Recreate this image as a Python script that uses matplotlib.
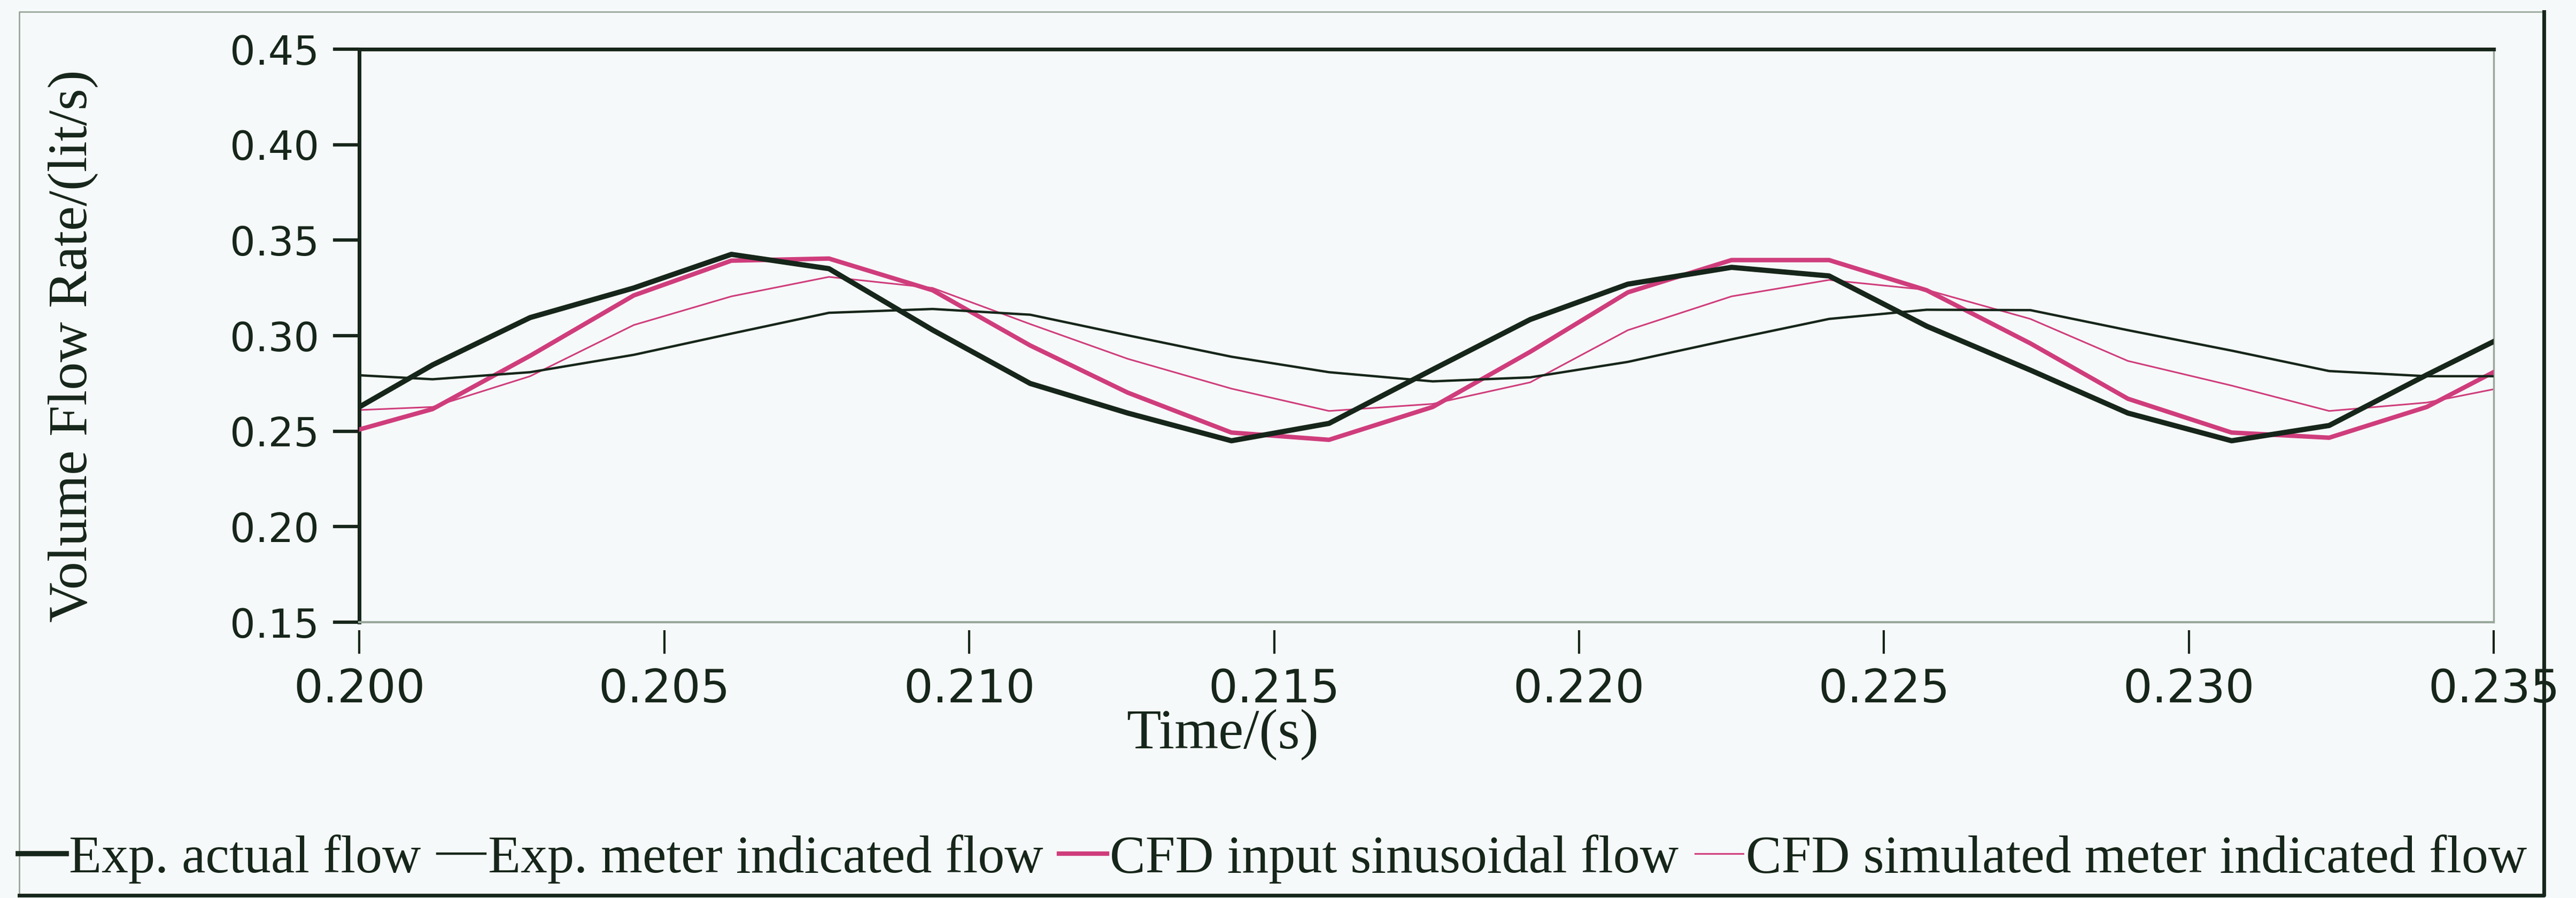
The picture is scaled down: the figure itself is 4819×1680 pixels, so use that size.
import matplotlib
matplotlib.use("Agg")
from matplotlib import pyplot as plt
from matplotlib.lines import Line2D

# time samples (s)
time = [0.2000, 0.2012, 0.2028, 0.2045, 0.2061, 0.2077, 0.2094, 0.2110,
        0.2126, 0.2143, 0.2159, 0.2176, 0.2192, 0.2208, 0.2225, 0.2241,
        0.2257, 0.2274, 0.2290, 0.2307, 0.2323, 0.2339, 0.2350]

# volume flow rate (lit/s)
exp_actual = [0.2627, 0.2847, 0.3095, 0.3250, 0.3426, 0.3351, 0.3030, 0.2750,
              0.2595, 0.2450, 0.2541, 0.2823, 0.3085, 0.3270, 0.3358, 0.3313,
              0.3050, 0.2820, 0.2595, 0.2450, 0.2530, 0.2795, 0.2970]
exp_meter = [0.2793, 0.2772, 0.2809, 0.2900, 0.3011, 0.3120, 0.3140, 0.3110,
             0.3002, 0.2890, 0.2809, 0.2761, 0.2782, 0.2863, 0.2981, 0.3088,
             0.3136, 0.3134, 0.3029, 0.2922, 0.2815, 0.2788, 0.2788]
cfd_input = [0.2509, 0.2616, 0.2895, 0.3211, 0.3393, 0.3404, 0.3238, 0.2949,
             0.2702, 0.2493, 0.2455, 0.2627, 0.2916, 0.3227, 0.3396, 0.3396,
             0.3238, 0.2960, 0.2670, 0.2493, 0.2466, 0.2627, 0.2810]
cfd_meter = [0.2611, 0.2627, 0.2788, 0.3056, 0.3206, 0.3308, 0.3250, 0.3061,
             0.2879, 0.2723, 0.2606, 0.2643, 0.2756, 0.3029, 0.3206, 0.3292,
             0.3240, 0.3088, 0.2868, 0.2739, 0.2606, 0.2650, 0.2720]

x_ticks = [0.200, 0.205, 0.210, 0.215, 0.220, 0.225, 0.230, 0.235]
y_ticks = [0.15, 0.20, 0.25, 0.30, 0.35, 0.40, 0.45]

labels = ["Exp. actual flow", "Exp. meter indicated flow",
          "CFD input sinusoidal flow", "CFD simulated meter indicated flow"]

dark = "#16261a"
pink = "#cf3d7c"
grey = "#9aa89c"
bg = "#f6f9f9"

fig = plt.figure(figsize=(48.19, 16.8), dpi=100, facecolor=bg)
ax = fig.add_axes([0.1395, 0.3071, 0.8286, 0.6381], facecolor=bg)

ax.plot(time, exp_actual, color=dark, lw=7, zorder=5, label=labels[0])
ax.plot(time, exp_meter, color=dark, lw=3.2, zorder=4, label=labels[1])
ax.plot(time, cfd_input, color=pink, lw=6, zorder=3, label=labels[2])
ax.plot(time, cfd_meter, color=pink, lw=2.2, zorder=2, label=labels[3])

ax.set_xlim(0.200, 0.235)
ax.set_ylim(0.15, 0.45)
ax.set_xticks(x_ticks)
ax.set_xticklabels([f"{t:.3f}" for t in x_ticks])
ax.set_yticks(y_ticks)
ax.set_yticklabels([f"{v:.2f}" for v in y_ticks])

# frame: heavy top/left, light right/bottom
ax.spines["top"].set_linewidth(5)
ax.spines["top"].set_color(dark)
ax.spines["left"].set_linewidth(5)
ax.spines["left"].set_color(dark)
ax.spines["right"].set_linewidth(2.5)
ax.spines["right"].set_color(grey)
# x ticks sit a little below the plot border
ax.spines["bottom"].set_position(("outward", 11))
ax.spines["bottom"].set_visible(False)
ax.add_line(Line2D([0, 1], [0, 0], transform=ax.transAxes, color=grey,
                   lw=3, clip_on=False, zorder=6))

ax.tick_params(axis="y", direction="out", length=35, width=4.5, pad=19,
               colors=dark, labelsize=54)
ax.tick_params(axis="x", direction="out", length=32, width=3, pad=18,
               colors=dark, labelsize=62)
for lab in ax.get_xticklabels() + ax.get_yticklabels():
    lab.set_family("DejaVu Sans")

ax.set_xlabel("Time/(s)", family="Liberation Serif", fontsize=76,
              color=dark, va="center")
ax.xaxis.set_label_coords(0.4045, -0.197)
ax.set_ylabel("Volume Flow Rate/(lit/s)", family="Liberation Serif",
              fontsize=75, color=dark, va="center")
ax.yaxis.set_label_coords(-0.134, 0.482)

fig.legend(loc="center", bbox_to_anchor=(0.494, 0.0435), ncol=4,
           frameon=False, handlelength=0.9, handletextpad=0.05,
           columnspacing=0.3, prop={"family": "Liberation Serif", "size": 72},
           labelcolor=dark)

# outer box round the whole figure
x0, x1 = 36 / 4819, 4759 / 4819
y0, y1 = 1 - 1675 / 1680, 1 - 22 / 1680
fig.add_artist(Line2D([x0, x0, x1], [y0, y1, y1], transform=fig.transFigure,
                      color=grey, lw=2))
fig.add_artist(Line2D([x0, x1, x1], [y0, y0, y1], transform=fig.transFigure,
                      color=dark, lw=5))

fig.savefig("out.png", dpi=100, facecolor=bg)
